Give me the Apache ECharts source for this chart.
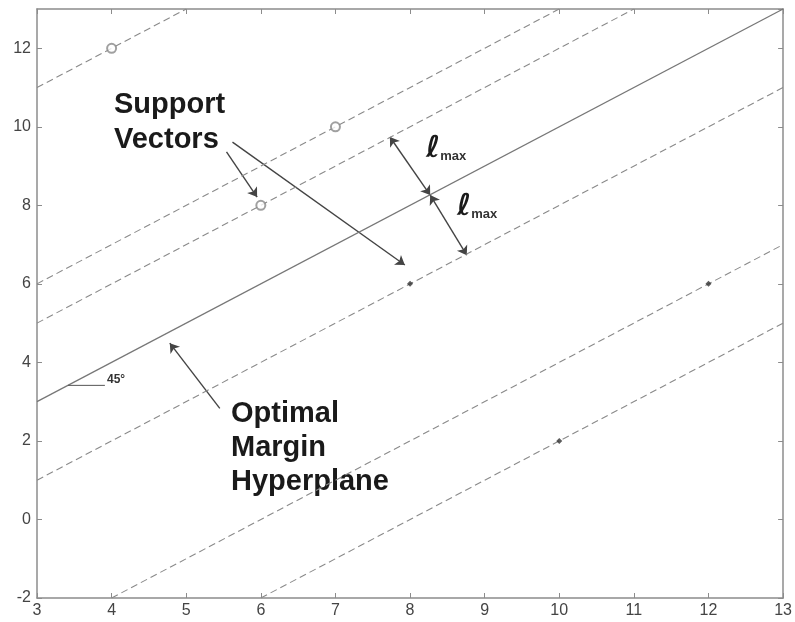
<!DOCTYPE html>
<html>
<head>
<meta charset="utf-8">
<script src="https://cdn.jsdelivr.net/npm/echarts@6/dist/echarts.min.js"></script>
<style>html,body{margin:0;padding:0;background:#fff}#c{width:795px;height:622px}</style>
</head>
<body>
<div id="c"></div>
<script>
// ---- data ----
var xTicks = [3, 4, 5, 6, 7, 8, 9, 10, 11, 12, 13];
var yTicks = [-2, 0, 2, 4, 6, 8, 10, 12];
var hyperplane = [[3, 3], [13, 13]];
var marginLine1 = [[3, 11], [5, 13]];
var marginLine2 = [[3, 6], [10, 13]];
var marginLine3 = [[3, 5], [11, 13]];
var marginLine4 = [[3, 1], [13, 11]];
var marginLine5 = [[4, -2], [13, 7]];
var marginLine6 = [[6, -2], [13, 5]];
var classA = [[4, 12], [7, 10], [6, 8]];
var classB = [[8, 6], [12, 6], [10, 2]];
var supportArrows = [[[5.54, 9.36], [5.95, 8.21]], [[5.62, 9.61], [7.93, 6.48]]];
var lmaxArrows = [[[7.73, 9.74], [8.27, 8.26]], [[8.27, 8.26], [8.76, 6.73]]];
var hyperArrow = [[[5.45, 2.83], [4.78, 4.49]]];
var angleLine = [[3.415, 3.415], [3.91, 3.415]];

var chart = echarts.init(document.getElementById('c'));
var axisCol = '#8c8c8c';
function dashed(d) {
  return {type: 'line', data: d, symbol: 'none', silent: true,
    lineStyle: {color: '#8a8a8a', width: 1.1, type: [7, 4]}};
}
var baseX = {type: 'value', min: 3, max: 13, interval: 1,
  axisLine: {show: true, onZero: false, lineStyle: {color: axisCol, width: 1.5}},
  axisTick: {show: true, inside: true, length: 5, lineStyle: {color: axisCol}},
  splitLine: {show: false}};
var baseY = {type: 'value', min: -2, max: 13, interval: 2,
  axisLine: {show: true, onZero: false, lineStyle: {color: axisCol, width: 1.5}},
  axisTick: {show: true, inside: true, length: 5, lineStyle: {color: axisCol}},
  splitLine: {show: false}};
chart.setOption({
  animation: false,
  grid: {left: 37, right: 9, top: 9, bottom: 24},
  xAxis: [
    Object.assign({}, baseX, {position: 'bottom',
      axisLabel: {show: true, color: '#444', fontSize: 16, fontFamily: 'Liberation Sans', margin: 5}}),
    Object.assign({}, baseX, {position: 'top', axisLabel: {show: false}})
  ],
  yAxis: [
    Object.assign({}, baseY, {position: 'left',
      axisLabel: {show: true, color: '#444', fontSize: 16, fontFamily: 'Liberation Sans', margin: 6, showMaxLabel: false}}),
    Object.assign({}, baseY, {position: 'right', axisLabel: {show: false}})
  ],
  series: [
    {type: 'line', data: hyperplane, symbol: 'none', lineStyle: {color: '#777', width: 1.3}},
    dashed(marginLine1), dashed(marginLine2), dashed(marginLine3),
    dashed(marginLine4), dashed(marginLine5), dashed(marginLine6),
    {type: 'scatter', data: classA, symbol: 'emptyCircle', symbolSize: 9, z: 5,
      itemStyle: {color: '#888', borderColor: '#888', borderWidth: 1.2}},
    {type: 'scatter', data: classB, symbol: 'diamond', symbolSize: 6, z: 5,
      itemStyle: {color: '#333'}},
    {type: 'lines', coordinateSystem: 'cartesian2d', symbol: ['none', 'arrow'], symbolSize: 9,
      data: supportArrows.map(function (c) { return {coords: c}; }),
      lineStyle: {color: '#444', width: 1.4, opacity: 1}},
    {type: 'lines', coordinateSystem: 'cartesian2d', symbol: ['arrow', 'arrow'], symbolSize: 9,
      data: lmaxArrows.map(function (c) { return {coords: c}; }),
      lineStyle: {color: '#444', width: 1.4, opacity: 1}},
    {type: 'lines', coordinateSystem: 'cartesian2d', symbol: ['none', 'arrow'], symbolSize: 9,
      data: hyperArrow.map(function (c) { return {coords: c}; }),
      lineStyle: {color: '#444', width: 1.4, opacity: 1}},
    {type: 'line', data: angleLine, symbol: 'none', lineStyle: {color: '#555', width: 1}}
  ],
  graphic: [
    {type: 'text', x: 114, y: 87, style: {text: 'Support\nVectors',
      font: 'bold 29px "Liberation Sans", Arial, sans-serif', lineHeight: 35, fill: '#1a1a1a'}},
    {type: 'text', x: 231, y: 397, style: {text: 'Optimal\nMargin\nHyperplane',
      font: 'bold 29px "Liberation Sans", Arial, sans-serif', lineHeight: 34, fill: '#1a1a1a'}},
    {type: 'text', x: 426, y: 134, style: {text: '{l|ℓ}{s|max}',
      rich: {l: {font: 'bold 30px "DejaVu Sans"', fill: '#1a1a1a', verticalAlign: 'bottom'},
             s: {font: 'bold 13px "Liberation Sans"', fill: '#333', verticalAlign: 'bottom', padding: [0, 0, 1, 0]}}}},
    {type: 'text', x: 457, y: 192, style: {text: '{l|ℓ}{s|max}',
      rich: {l: {font: 'bold 30px "DejaVu Sans"', fill: '#1a1a1a', verticalAlign: 'bottom'},
             s: {font: 'bold 13px "Liberation Sans"', fill: '#333', verticalAlign: 'bottom', padding: [0, 0, 1, 0]}}}},
    {type: 'text', x: 107, y: 374, style: {text: '45°',
      font: 'bold 12px "Liberation Sans"', fill: '#333'}}
  ]
});
</script>
</body>
</html>
